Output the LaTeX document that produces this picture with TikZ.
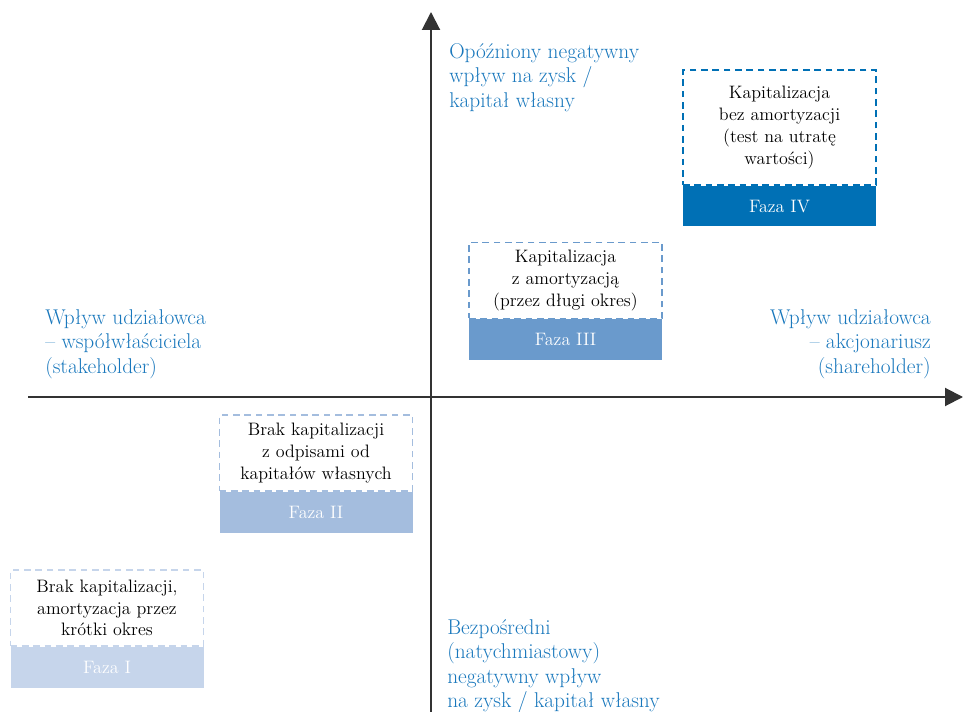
\documentclass[tikz,border=0pt]{standalone}
\usepackage{fontspec}
\usetikzlibrary{arrows.meta,positioning}
\definecolor{niebieski}{HTML}{1877BC}
\definecolor{faza4kol}{HTML}{0070B5}
\definecolor{faza3kol}{HTML}{6A9ACC}
\definecolor{faza2kol}{HTML}{A4BDDE}
\definecolor{faza1kol}{HTML}{C6D5EB}
\definecolor{osie}{HTML}{333333}
\begin{document}
\begin{tikzpicture}[x=0.75pt,y=-0.75pt,
	font=\fontsize{13.5}{16.3}\selectfont,
	opis/.style={draw=#1, dash pattern=on 5pt off 3.5pt, line width=1.1pt,
		minimum width=144.75pt, minimum height=57pt, inner sep=0pt, align=center},
	faza/.style={fill=#1, minimum width=144.75pt, minimum height=30.5pt,
		inner sep=0pt, text=white, anchor=north},
	etykieta/.style={text=niebieski, inner sep=0pt, font=\fontsize{16}{18.4}\selectfont},
	os/.style={draw=osie, line width=1.5pt, -{Triangle[length=13.5pt,width=13.5pt]}}]
	\useasboundingbox (0,0) rectangle (970,712);
	% osie
	\coordinate (xl) at (28,397);
	\coordinate (xr) at (963,397);
	\coordinate (yd) at (431,712);
	\coordinate (yg) at (431,12);
	\draw[os] (xl) -- (xr);
	\draw[os] (yd) -- (yg);
	% fazy
	\node[opis=faza4kol, minimum height=86pt] (opis4) at (779.5,127.5)
		{Kapitalizacja\\bez amortyzacji\\(test na utratę\\wartości)};
	\node[faza=faza4kol] (faza4) at (opis4.south) {Faza IV};
	\node[opis=faza3kol] (opis3) at (565.5,280.5)
		{Kapitalizacja\\z amortyzacją\\(przez długi okres)};
	\node[faza=faza3kol] (faza3) at (opis3.south) {Faza III};
	\node[opis=faza2kol] (opis2) at (316,453)
		{Brak kapitalizacji\\z odpisami od\\kapitałów własnych};
	\node[faza=faza2kol] (faza2) at (opis2.south) {Faza II};
	\node[opis=faza1kol] (opis1) at (107,608)
		{Brak kapitalizacji,\\amortyzacja przez\\krótki okres};
	\node[faza=faza1kol] (faza1) at (opis1.south) {Faza I};
	% etykiety osi
	\node[etykieta, anchor=north west, align=left] (gora) at (449,43)
		{Opóźniony negatywny\\wpływ na zysk /\\kapitał własny};
	\node[etykieta, anchor=north west, align=left] (lewa) at (45,309)
		{Wpływ udziałowca\\– współwłaściciela\\(stakeholder)};
	\node[etykieta, anchor=north east, align=right] (prawa) at (931,309)
		{Wpływ udziałowca\\– akcjonariusz\\(shareholder)};
	\node[etykieta, anchor=north west, align=left] (dol) at (447,619)
		{Bezpośredni\\(natychmiastowy)\\negatywny wpływ\\na zysk / kapitał własny};
\end{tikzpicture}
\end{document}
